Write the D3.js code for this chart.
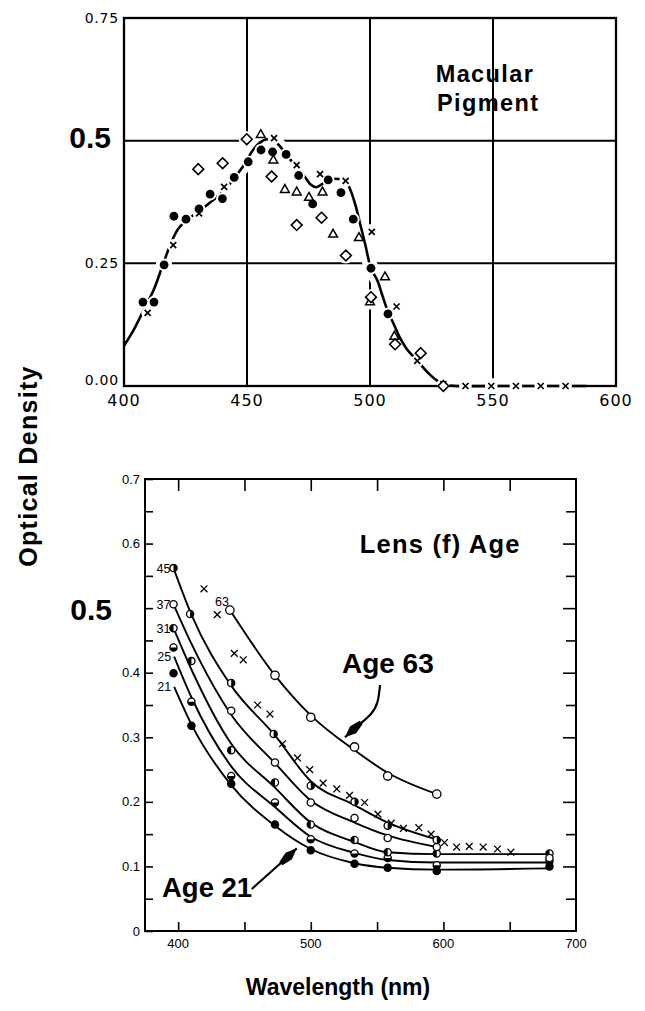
<!DOCTYPE html>
<html><head><meta charset="utf-8">
<script src="https://cdn.jsdelivr.net/npm/d3@7"></script>
<style>
html,body{margin:0;padding:0;background:#fff;}
svg{display:block;}
</style></head>
<body>
<svg id="fig" width="645" height="1011"></svg>
<script>
// ---------- Upper panel: macular pigment optical density ----------
const mpCurve = [[400,0.082],[404,0.115],[408,0.155],[412,0.195],[416,0.25],[419,0.29],[422,0.32],[426,0.34],[431,0.358],[436,0.378],[441,0.4],[445,0.425],[449,0.452],[452,0.478],[455,0.495],[458,0.503],[461,0.5],[464,0.485],[467,0.465],[470,0.448],[473,0.43],[476,0.41],[478,0.405],[480,0.41],[483,0.42],[487,0.422],[490,0.418],[492,0.4],[494,0.37],[496,0.33],[498,0.29],[500.4,0.24],[503,0.215],[505,0.185],[507.4,0.15],[509.5,0.128],[512,0.1],[515,0.075],[519,0.053],[523,0.03],[527,0.012],[531,0.002],[535,0],[550,0],[570,0],[588,0]];
const mpFilled = [[407.7,0.171],[412.2,0.171],[416.3,0.247],[420.3,0.346],[425.2,0.34],[430.5,0.361],[435,0.391],[440,0.382],[444.8,0.425],[450.5,0.457],[455.7,0.481],[460.4,0.477],[465.9,0.472],[471,0.429],[476.7,0.371],[483,0.42],[488.2,0.394],[493.2,0.34],[500.4,0.24],[507.3,0.147]];
const mpCross = [[409.6,0.149],[420,0.287],[430.5,0.352],[440.7,0.406],[461,0.505],[470.2,0.45],[479.7,0.432],[490.1,0.418],[500.7,0.314],[510.8,0.162],[519.2,0.051],[529.8,0.004],[538.8,0],[549.3,0],[559.3,0],[569.4,0],[579.5,0]];
const mpTriangle = [[455.6,0.513],[460.7,0.461],[465.4,0.401],[470.2,0.396],[475.2,0.385],[480.7,0.396],[485,0.31],[495.5,0.303],[506.1,0.223],[500,0.172],[509.9,0.102]];
const mpDiamond = [[430.2,0.442],[440.1,0.454],[449.9,0.503],[460,0.427],[470.2,0.328],[480.3,0.343],[490.2,0.266],[500.4,0.181],[510.2,0.085],[520.6,0.067],[529.8,0]];
const mpXTicks = [400,450,500,550,600];
const mpXGrid = [450,500,550];
const mpYGrid = [0.25,0.5];
const mpYTicks = [0,0.25,0.75];
const mpYLabels = ["0.00","0.25","0.75"];

// ---------- Lower panel: lens optical density by age ----------
const lensAges = ["21","25","31","37","45","63"];
const fit21 = [[397,0.378],[410,0.32],[440,0.226],[473,0.163],[500,0.127],[533,0.105],[558,0.098],[595,0.095],[680,0.097]];
const fit25 = [[397,0.425],[410,0.362],[440,0.255],[473,0.192],[500,0.146],[533,0.121],[558,0.11],[595,0.106],[680,0.106]];
const fit31 = [[396.5,0.469],[410,0.405],[440,0.29],[473,0.222],[500,0.168],[533,0.138],[558,0.122],[595,0.119],[680,0.119]];
const fit37 = [[396.5,0.506],[410,0.445],[440,0.335],[473,0.26],[500,0.202],[533,0.168],[558,0.148],[595,0.13]];
const fit45 = [[396.5,0.562],[410,0.49],[440,0.38],[473,0.303],[500,0.232],[533,0.195],[558,0.168],[595,0.142]];
const fit63 = [[439,0.497],[473,0.396],[500,0.334],[533,0.28],[558,0.245],[595,0.212]];
const pts21 = [[396.5,0.399],[410,0.318],[440,0.228],[473,0.165],[500,0.125],[533,0.104],[558,0.098],[595,0.093],[680,0.1]];
const pts25 = [[396.5,0.439],[410,0.355],[440,0.24],[473,0.199],[500,0.142],[533,0.12],[558,0.113],[595,0.102],[680,0.108]];
const pts31 = [[396.5,0.469],[410,0.418],[440,0.28],[473,0.23],[500,0.165],[533,0.141],[558,0.122],[595,0.12],[680,0.12]];
const pts37 = [[396.5,0.506],[440,0.341],[473,0.261],[500,0.199],[533,0.175],[558,0.144],[595,0.13],[680,0.113]];
const pts45 = [[396.5,0.562],[409,0.491],[440,0.384],[472,0.305],[500,0.225],[533,0.2],[558,0.163],[595,0.141]];
const pts63 = [[439,0.497],[473,0.396],[500,0.331],[533,0.285],[558,0.24],[595,0.212]];
const lensCross = [[419.5,0.53],[429.5,0.49],[442.3,0.43],[449.1,0.42],[459.9,0.35],[469.2,0.336],[478.7,0.29],[490,0.268],[499.2,0.25],[509.3,0.229],[519.6,0.22],[529.2,0.21],[540.6,0.199],[550.6,0.181],[560.7,0.167],[569.9,0.159],[581.5,0.16],[590.7,0.15],[600.8,0.137],[610,0.13],[619.5,0.131],[630,0.13],[640.8,0.127],[650.9,0.122]];
const lensXTicks = [400,450,500,550,600,650];
const lensXLabels = [400,500,600,700];
const lensYMajor = [0,0.1,0.2,0.3,0.4,0.5,0.6,0.7];
const lensYMinor = [0.05,0.15,0.25,0.35,0.45,0.55,0.65];
const arrow63 = [[552.2,0.381],[550.9,0.353],[545.9,0.335],[535.8,0.319],[525.8,0.3]];
const arrow21 = [[455.5,0.065],[471.7,0.095],[481.8,0.113],[489.4,0.128]];

const svg = d3.select("#fig");
svg.append("rect").attr("width",645).attr("height",1011).attr("fill","#fff");
const SANS = "'Liberation Sans', Arial, Helvetica, sans-serif";
const WIDE = "'DejaVu Sans', sans-serif";

// ===== upper panel =====
const xT = d3.scaleLinear().domain([400,600]).range([124,616]);
const yT = d3.scaleLinear().domain([0,0.75]).range([386,18]);
const gT = svg.append("g");

gT.selectAll("line.vg").data(mpXGrid).join("line")
  .attr("x1",d=>xT(d)).attr("x2",d=>xT(d)).attr("y1",yT(0)).attr("y2",yT(0.75))
  .attr("stroke","#000").attr("stroke-width",2);
gT.selectAll("line.hg").data(mpYGrid).join("line")
  .attr("x1",xT(400)).attr("x2",xT(600)).attr("y1",d=>yT(d)).attr("y2",d=>yT(d))
  .attr("stroke","#000").attr("stroke-width",2);

const lineT = d3.line().x(d=>xT(d[0])).y(d=>yT(d[1])).curve(d3.curveCatmullRom.alpha(0.5));
const allMp = mpFilled.concat(mpCross, mpTriangle, mpDiamond);

// white clearing around the data so grid lines break near it
gT.append("path").datum(mpCurve.filter(d=>d[0]>=404 && d[0]<=531)).attr("d",lineT)
  .attr("fill","none").attr("stroke","#fff").attr("stroke-width",14);
gT.selectAll("circle.halo").data(allMp).join("circle")
  .attr("cx",d=>xT(d[0])).attr("cy",d=>yT(d[1])).attr("r",8).attr("fill","#fff");

// frame
gT.append("rect").attr("x",xT(400)).attr("y",yT(0.75))
  .attr("width",xT(600)-xT(400)).attr("height",yT(0)-yT(0.75))
  .attr("fill","none").attr("stroke","#000").attr("stroke-width",2.3);

gT.append("path").datum(mpCurve).attr("d",lineT)
  .attr("fill","none").attr("stroke","#000").attr("stroke-width",2.6);

// small gaps in the curve around its markers
gT.selectAll("circle.gap").data(mpFilled.concat(mpCross)).join("circle")
  .attr("cx",d=>xT(d[0])).attr("cy",d=>yT(d[1])).attr("r",6.3).attr("fill","#fff");

gT.selectAll("circle.fd").data(mpFilled).join("circle")
  .attr("cx",d=>xT(d[0])).attr("cy",d=>yT(d[1])).attr("r",4.4).attr("fill","#000");
gT.selectAll("path.cx").data(mpCross).join("path")
  .attr("transform",d=>`translate(${xT(d[0])},${yT(d[1])})`)
  .attr("d","M-3,-3L3,3M-3,3L3,-3").attr("stroke","#000").attr("stroke-width",1.7).attr("fill","none");
gT.selectAll("path.tri").data(mpTriangle).join("path")
  .attr("transform",d=>`translate(${xT(d[0])},${yT(d[1])})`)
  .attr("d","M0,-4.6L4.4,3.2L-4.4,3.2Z").attr("stroke","#000").attr("stroke-width",1.5).attr("fill","#fff");
gT.selectAll("path.dia").data(mpDiamond).join("path")
  .attr("transform",d=>`translate(${xT(d[0])},${yT(d[1])})`)
  .attr("d","M0,-5.4L5.4,0L0,5.4L-5.4,0Z").attr("stroke","#000").attr("stroke-width",1.6).attr("fill","#fff");

// tick labels
gT.selectAll("text.xl").data(mpXTicks).join("text")
  .attr("x",d=>xT(d)).attr("y",yT(0)+20).attr("text-anchor","middle")
  .attr("font-family",WIDE).attr("font-size",16).attr("letter-spacing",1).text(d=>d);
gT.selectAll("text.yl").data(mpYTicks).join("text")
  .attr("x",xT(400)-5).attr("y",(d,i)=>yT(d)+(d===0?-1:5)).attr("text-anchor","end")
  .attr("font-family",WIDE).attr("font-size",14).attr("letter-spacing",0.8).text((d,i)=>mpYLabels[i]);
gT.append("text").attr("x",xT(400)-13).attr("y",yT(0.5)+7).attr("text-anchor","end")
  .attr("font-family",SANS).attr("font-weight","bold").attr("font-size",30).text("0.5");

gT.append("text").attr("x",xT(526.7)).attr("y",yT(0.619))
  .attr("font-family",SANS).attr("font-weight","bold").attr("font-size",23.5).attr("letter-spacing",1.4).text("Macular");
gT.append("text").attr("x",xT(527.2)).attr("y",yT(0.56))
  .attr("font-family",SANS).attr("font-weight","bold").attr("font-size",23.5).attr("letter-spacing",1.4).text("Pigment");

// ===== lower panel =====
const xB = d3.scaleLinear().domain([375,700]).range([145,576]);
const yB = d3.scaleLinear().domain([0,0.7]).range([931,479]);
const gB = svg.append("g");

gB.append("rect").attr("x",xB(375)).attr("y",yB(0.7))
  .attr("width",xB(700)-xB(375)).attr("height",yB(0)-yB(0.7))
  .attr("fill","none").attr("stroke","#000").attr("stroke-width",2);

function inward(g){ g.select(".domain").remove(); g.selectAll(".tick line").attr("stroke","#000").attr("stroke-width",1.6); }

gB.append("g").attr("transform",`translate(${xB(375)},0)`)
  .call(d3.axisLeft(yB).tickValues(lensYMajor.concat(lensYMinor)).tickSize(-8).tickSizeOuter(0).tickFormat(""))
  .call(inward);
gB.append("g").attr("transform",`translate(${xB(700)},0)`)
  .call(d3.axisRight(yB).tickValues(lensYMajor.slice(1,7)).tickSize(-13).tickSizeOuter(0).tickFormat(""))
  .call(inward);
gB.append("g").attr("transform",`translate(${xB(700)},0)`)
  .call(d3.axisRight(yB).tickValues(lensYMinor).tickSize(-10).tickSizeOuter(0).tickFormat(""))
  .call(inward);
gB.append("g").attr("transform",`translate(0,${yB(0.7)})`)
  .call(d3.axisTop(xB).tickValues(lensXTicks).tickSize(-12).tickSizeOuter(0).tickFormat(""))
  .call(inward);
gB.append("g").attr("transform",`translate(0,${yB(0)})`)
  .call(d3.axisBottom(xB).tickValues(lensXTicks).tickSize(-9).tickSizeOuter(0).tickFormat(""))
  .call(inward);

gB.selectAll("text.yl").data(lensYMajor.filter(d=>d!==0.5)).join("text")
  .attr("x",xB(375)-5).attr("y",d=>yB(d)+4.5).attr("text-anchor","end")
  .attr("font-family",SANS).attr("font-size",13).text(d=>d===0?"0":d.toFixed(1));
gB.append("text").attr("x",xB(375)-33).attr("y",yB(0.5)+12).attr("text-anchor","end")
  .attr("font-family",SANS).attr("font-weight","bold").attr("font-size",30).text("0.5");
gB.selectAll("text.xl").data(lensXLabels).join("text")
  .attr("x",d=>xB(d)).attr("y",yB(0)+17).attr("text-anchor","middle")
  .attr("font-family",SANS).attr("font-size",13).text(d=>d);

const lineB = d3.line().x(d=>xB(d[0])).y(d=>yB(d[1])).curve(d3.curveMonotoneX);
const fits = [fit21,fit25,fit31,fit37,fit45,fit63];
const pts = [pts21,pts25,pts31,pts37,pts45,pts63];
const kinds = ["filled","bottom","left","open","right","open"];

gB.selectAll("path.fit").data(fits).join("path")
  .attr("d",lineB).attr("fill","none").attr("stroke","#000").attr("stroke-width",1.9);

gB.selectAll("path.lx").data(lensCross).join("path")
  .attr("transform",d=>`translate(${xB(d[0])},${yB(d[1])})`)
  .attr("d","M-3.4,-3.4L3.4,3.4M-3.4,3.4L3.4,-3.4").attr("stroke","#000").attr("stroke-width",1.3);

const halfPath = {
  left: r=>`M0,${-r}A${r},${r} 0 0 0 0,${r}Z`,
  right: r=>`M0,${-r}A${r},${r} 0 0 1 0,${r}Z`,
  bottom: r=>`M${-r},0A${r},${r} 0 0 0 ${r},0Z`
};
pts.forEach((arr,i)=>{
  const kind = kinds[i];
  const r = lensAges[i]==="63" ? 4.2 : 3.6;
  const g = gB.append("g");
  g.selectAll("circle").data(arr).join("circle")
    .attr("cx",d=>xB(d[0])).attr("cy",d=>yB(d[1])).attr("r",r)
    .attr("fill",kind==="filled"?"#000":"#fff").attr("stroke","#000").attr("stroke-width",1.3);
  if (halfPath[kind]) {
    g.selectAll("path").data(arr).join("path")
      .attr("transform",d=>`translate(${xB(d[0])},${yB(d[1])})`)
      .attr("d",halfPath[kind](r)).attr("fill","#000");
  }
});

// age labels at the start of each curve
gB.selectAll("text.age").data(fits.slice(0,5)).join("text")
  .attr("x",d=>xB(d[0][0])-3).attr("y",d=>yB(d[0][1])+4.5).attr("text-anchor","end")
  .attr("font-family",SANS).attr("font-size",12.5).text((d,i)=>lensAges[i]);
gB.append("text").attr("x",xB(fit63[0][0])-1).attr("y",yB(fit63[0][1])-4).attr("text-anchor","end")
  .attr("font-family",SANS).attr("font-size",12.5).text(lensAges[5]);

// annotation arrows
const arrowLine = d3.line().x(d=>xB(d[0])).y(d=>yB(d[1])).curve(d3.curveBasis);
function arrow(data){
  gB.append("path").datum(data).attr("d",arrowLine).attr("fill","none").attr("stroke","#000").attr("stroke-width",2.2);
  const n = data.length;
  const tx = xB(data[n-1][0]), ty = yB(data[n-1][1]);
  const px = xB(data[n-2][0]), py = yB(data[n-2][1]);
  const L = Math.hypot(tx-px,ty-py), ux=(tx-px)/L, uy=(ty-py)/L, vx=-uy, vy=ux;
  const p = (a,b)=>[tx-ux*a+vx*b, ty-uy*a+vy*b];
  gB.append("path").attr("d",d3.line()([p(0,0),p(11,4.6),p(22,2.2),p(22,-2.2),p(11,-4.6)])+"Z").attr("fill","#000");
}
arrow(arrow63);
arrow(arrow21);

gB.append("text").attr("x",xB(523.5)).attr("y",yB(0.4))
  .attr("font-family",SANS).attr("font-weight","bold").attr("font-size",28).text("Age 63");
gB.append("text").attr("x",xB(387.8)).attr("y",yB(0.053))
  .attr("font-family",SANS).attr("font-weight","bold").attr("font-size",27.5).text("Age 21");
gB.append("text").attr("x",xB(537)).attr("y",yB(0.586))
  .attr("font-family",SANS).attr("font-weight","bold").attr("font-size",25.5).attr("letter-spacing",1.2).text("Lens (f) Age");

// shared axis titles
svg.append("text").attr("transform","translate(37,466) rotate(-90)").attr("text-anchor","middle")
  .attr("font-family",SANS).attr("font-weight","bold").attr("font-size",25).attr("letter-spacing",1.3).text("Optical  Density");
svg.append("text").attr("x",338).attr("y",995).attr("text-anchor","middle")
  .attr("font-family",SANS).attr("font-weight","bold").attr("font-size",23).text("Wavelength  (nm)");
</script>
</body></html>
